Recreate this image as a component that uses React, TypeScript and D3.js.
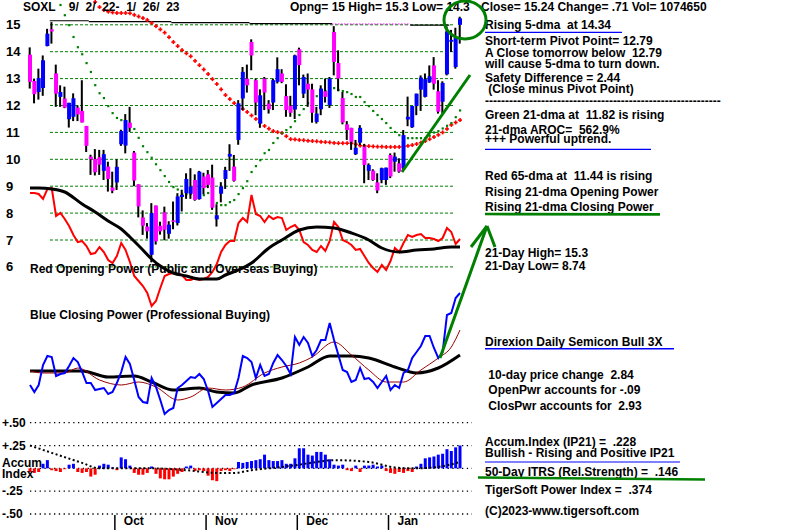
import React from 'react';
import * as d3 from 'd3';

// ---------- DATA ----------
const opens = [13.89,12.91,12.5,12.65,14.21,14.83,13.19,12.32,12.26,11.49,
11.58,11.92,11.8,11.24,10.1,10.01,10.08,9.57,9.73,8.95,
9.14,10.56,10.51,11.36,10.25,9.07,7.84,7.5,6.45,8.28,
7.53,8.03,7.23,7.73,7.63,8.6,8.74,8.72,9.23,8.52,
9.36,9.44,9.32,7.77,8.72,9.27,10.1,9.73,10.72,12.26,
13.0,14.36,12.94,11.33,13.0,12.07,12.11,12.88,13.19,12.35,
11.99,11.85,14.09,12.44,12.81,12.6,11.39,11.86,12.53,12.01,
14.73,13.58,12.28,11.3,11.17,10.19,10.62,10.47,9.57,9.58,
9.14,9.23,9.23,10.16,9.91,9.85,9.67,11.48,11.19,11.98,
12.59,12.32,12.86,13.49,12.53,12.14,13.16,14.37,13.43,15.0];
const highs = [14.16,13.0,13.37,13.86,14.85,15.1,13.52,12.75,12.7,12.1,
12.45,12.0,12.94,11.24,10.17,10.38,10.35,10.35,9.91,9.54,
10.0,11.1,11.68,11.95,10.31,9.07,8.1,7.63,8.37,8.28,
7.68,8.24,7.7,8.43,8.74,8.87,9.48,9.67,9.44,9.57,
9.5,9.6,9.8,8.33,9.15,9.72,10.56,10.16,12.2,13.43,
13.52,14.46,13.0,12.6,13.06,12.2,13.0,13.79,13.35,12.79,
12.36,13.89,14.15,13.15,13.19,12.81,11.95,12.75,13.0,13.06,
14.95,14.05,12.5,11.42,11.17,10.72,11.27,10.57,9.85,9.63,
9.48,9.69,9.69,10.22,10.25,10.04,11.09,12.33,11.98,12.44,
13.12,13.19,13.49,13.8,12.94,12.9,14.94,14.81,14.89,15.3];
const lows = [12.63,12.08,12.22,12.36,14.2,14.3,11.95,11.95,11.9,11.18,
11.42,11.42,11.37,10.27,9.42,9.4,9.42,9.23,8.8,8.74,
8.86,10.5,10.22,11.02,9.0,7.84,7.19,7.05,6.17,6.83,
7.2,6.99,7.05,7.4,7.54,8.06,8.53,8.53,8.46,8.5,
8.7,8.93,8.12,7.5,8.4,8.9,9.57,9.17,10.54,11.83,
12.48,13.31,11.64,11.17,11.83,11.7,11.83,12.82,12.83,11.58,
11.58,11.5,12.75,12.28,11.95,11.36,11.33,11.64,12.11,11.91,
13.12,12.53,11.3,10.72,10.35,10.16,10.53,9.11,9.23,9.2,
8.74,9.11,9.05,9.3,9.54,9.5,9.6,11.23,11.17,11.64,
11.8,12.3,12.84,12.59,11.7,11.7,13.12,13.99,13.37,14.3];
const closes = [12.88,12.42,13.02,13.68,14.67,14.75,12.44,12.5,11.92,12.1,
12.27,11.67,11.37,10.5,10.0,9.52,9.8,10.19,9.27,8.83,
9.72,11.05,11.46,11.17,9.21,8.25,7.53,7.32,8.0,6.95,
7.32,7.38,7.57,7.68,8.62,8.68,9.27,8.99,8.49,9.54,
8.93,9.05,8.2,7.92,8.99,9.6,10.2,9.2,12.08,13.25,
12.75,13.86,12.11,12.38,12.48,11.86,12.94,13.35,12.88,11.83,
11.73,13.86,13.5,13.06,12.59,11.73,11.7,12.63,12.32,13.0,
13.62,13.0,11.37,11.09,10.65,10.43,11.17,9.79,9.79,9.23,
8.84,9.67,9.69,9.36,10.1,9.54,10.9,11.58,11.98,12.44,
13.04,12.98,13.09,12.81,11.77,12.84,14.75,14.44,14.53,15.24];

const ma65Start = 13;
const ma65 = [16.2,16.0,15.85,15.66,15.55,15.49,15.46,15.44,15.44,15.44,
15.43,15.37,15.31,15.25,15.18,15.07,14.95,14.83,14.71,14.54,
14.36,14.21,14.06,13.94,13.83,13.66,13.5,13.34,13.17,12.98,
12.8,12.6,12.39,12.24,12.09,11.98,11.87,11.76,11.63,11.5,
11.37,11.24,11.14,11.05,11.01,10.98,10.86,10.75,10.74,10.72,
10.71,10.69,10.68,10.67,10.65,10.64,10.63,10.61,10.6,10.6,
10.6,10.6,10.56,10.51,10.5,10.49,10.48,10.47,10.47,10.46,
10.46,10.46,10.46,10.48,10.5,10.53,10.57,10.62,10.68,10.75,
10.83,10.91,11.0,11.13,11.28,11.37,11.46];

const ma21Start = 7;
const ma21 = [15.74,15.36,14.99,14.55,14.17,13.91,13.58,13.25,12.76,12.46,
12.28,11.98,11.72,11.54,11.46,11.31,11.2,11.13,10.8,10.49,
10.27,10.06,9.82,9.6,9.38,9.16,8.97,8.88,8.71,8.71,
8.71,8.69,8.67,8.67,8.75,8.55,8.38,8.3,8.3,8.41,
8.49,8.71,8.93,9.19,9.53,9.75,9.97,10.23,10.35,10.61,
10.79,10.98,11.09,11.2,11.42,11.65,11.87,12.09,12.2,12.35,
12.46,12.54,12.58,12.65,12.58,12.54,12.5,12.43,12.32,12.32,
12.13,11.98,11.8,11.65,11.5,11.35,11.17,11.02,10.9,10.83,
10.79,10.79,10.79,10.79,10.79,10.88,11.0,11.05,11.15,11.25,
11.35,11.57,11.82];

// top reference step line
const stepDays = [5, 14, 33, 51, 70, 88, 97];
const stepLevels = [15.15, 15.12, 15.08, 15.04, 15.03, 14.99];

// Opening Power (red) and its MA (black)
const openPower = [117,117,116,111,121,122,94,97,91,84,
75,68,69,64,56,57,63,58,50,47,
54,67,60,48,34,29,24,17,4,9,
22,34,36,37,36,35,30,30,32,30,
31,33,38,46,58,65,69,69,87,92,
88,115,96,94,88,94,91,93,92,80,
83,85,80,68,65,60,58,64,59,69,
88,83,70,68,65,60,61,54,47,42,
38,45,40,49,62,58,67,75,73,75,
76,72,72,71,69,72,82,78,66,71];
const openPowerMA = [[0,122],[2,122],[5,121],[8,118],[12,106],[15,98],[18,89],[21,81],[23,73],[26,60],[28,51],[30,44],[33,37],[36,34],[39,31],[43,31],[45,35],[48,40],[51,47],[55,62],[58,70],[62,80],[66,83],[70,82],[74,77],[78,70],[81,62],[85,58],[89,60],[93,61],[97,63],[99,63]];

// Closing Power (blue) and its MAs
const closePower = [35,28,35,55,64,63,44,46,47,54,
62,58,48,37,37,30,31,32,26,28,
37,48,63,56,40,23,18,17,42,33,
20,6,10,12,32,35,39,43,42,46,
41,29,13,17,21,25,25,27,42,64,
62,58,42,55,44,46,57,65,60,54,
46,83,75,83,77,64,70,80,80,97,
80,65,50,48,38,40,52,41,42,38,
32,38,44,30,35,32,47,50,62,68,
74,84,84,72,62,68,105,107,122,127];
const closePowerSlowMA = [[0,49],[5,49],[12,49],[18,43],[24,44],[28,38],[33,30],[39,32],[43,28],[47,27],[51,35],[58,42],[64,53],[69,64],[74,64],[78,62],[84,53],[89,47],[94,52],[99,65]];
const closePowerFastMA = [[0,49],[3,47],[8,47],[11,52],[16,40],[21,35],[25,38],[29,33],[34,20],[37,23],[41,32],[45,30],[49,33],[54,47],[58,53],[62,57],[65,63],[70,78],[74,65],[78,50],[82,38],[86,38],[90,50],[94,62],[97,73],[99,90]];

// Accumulation Index (IP21)
const accum = [-0.04,-0.05,-0.04,0.05,0.09,-0.02,-0.03,-0.04,-0.01,0.04,
0.05,-0.04,-0.05,-0.04,-0.09,-0.07,0.03,0.05,0.04,0.01,
-0.02,0.12,0.1,0.03,-0.05,-0.07,-0.07,-0.05,0.02,-0.06,
-0.11,-0.12,-0.12,-0.09,-0.06,-0.04,0.02,0.03,-0.03,-0.02,
-0.03,-0.08,-0.13,-0.14,-0.03,-0.02,-0.03,-0.01,0.07,0.06,
0.07,0.08,0.09,0.1,0.15,0.09,0.08,0.08,0.09,0.05,
0.05,0.11,0.22,0.22,0.15,0.14,0.18,0.18,0.15,0.1,
0.04,0.03,0.04,-0.02,-0.03,0.03,-0.04,0.03,0.03,0.04,
0.02,0.03,-0.03,-0.05,-0.06,-0.04,-0.05,-0.03,-0.04,0.02,
0.05,0.11,0.12,0.13,0.15,0.16,0.21,0.19,0.23,0.25];
const accumMA = [[0,0.25],[5,0.17],[12,0.06],[16,0.0],[28,0.0],[36,-0.02],[43,-0.05],[47,-0.05],[51,-0.02],[55,0.0],[62,0.04],[66,0.07],[70,0.09],[78,0.07],[84,0.01],[88,0.0],[93,0.01],[99,0.07]];

const priceTicks = [15,14,13,12,11,10,9,8,7,6];
const accumTicks = [0.5,0.25,0,-0.25,-0.5];
const accumTickLabels = ['+.50','+.25','','-.25','-.50'];
const monthStarts = [20, 41, 62, 83];
const monthLabels = ['Oct', 'Nov', 'Dec', 'Jan'];

const headerLeft = 'SOXL    9/  2/  22-  1/  26/  23';
const headerMid = 'Opng= 15 High= 15.3 Low= 14.3';
const headerRight = 'Close= 15.24 Change= .71 Vol= 1074650';

const panelLines = [
  { t: 'Rising 5-dma  at 14.34', y: 29 },
  { t: 'Short-term Pivot Point= 12.79', y: 45 },
  { t: 'A Close tomorrow below  12.79', y: 56.5 },
  { t: 'will cause 5-dma to turn down.', y: 68 },
  { t: 'Safety Difference = 2.44', y: 82 },
  { t: ' (Close minus Pivot Point)', y: 93 },
  { t: '-----------------------------------------------------------', y: 104.5 },
  { t: 'Green 21-dma at  11.82 is rising', y: 119 },
  { t: '21-dma AROC=  562.9%', y: 134 },
  { t: '+++ Powerful uptrend.', y: 143 },
  { t: 'Red 65-dma at  11.44 is rising', y: 180 },
  { t: 'Rising 21-dma Opening Power', y: 196 },
  { t: 'Rising 21-dma Closing Power', y: 211 },
  { t: '21-Day High= 15.3', y: 257 },
  { t: '21-Day Low= 8.74', y: 270 },
  { t: 'Direxion Daily Semicon Bull 3X', y: 346 },
  { t: ' 10-day price change  2.84', y: 379 },
  { t: ' OpenPwr accounts for -.09', y: 394 },
  { t: ' ClosPwr accounts for  2.93', y: 410 },
  { t: 'Accum.Index (IP21) =  .228', y: 445.5 },
  { t: 'Bullish - Rising and Positive IP21', y: 457 },
  { t: '50-Day ITRS (Rel.Strength) =  .146', y: 476 },
  { t: 'TigerSoft Power Index =  .374', y: 494 },
  { t: '(C)2023-www.tigersoft.com', y: 515 },
];

const GREEN = '#008000';
const BLUE = '#0000ff';
const MAGENTA = '#ff00ff';
const RED = '#ff0000';

export default function App() {
  const x = d3.scaleLinear().domain([0, 99]).range([30, 460]);
  const yP = d3.scaleLinear().domain([6, 15]).range([266.9, 24.8]);
  const yOP = d3.scaleLinear().domain([0, 125]).range([310, 185]);
  const yCP = d3.scaleLinear().domain([0, 130]).range([420, 290]);
  const yA = d3.scaleLinear().domain([-0.5, 0.5]).range([514, 422.7]);

  const gridX0 = 50, gridX1 = 454;

  const opLine = d3.line<number>().x((_, i) => x(i)).y(d => yOP(d))(openPower) || '';
  const opMALine = d3.line<number[]>().x(d => x(d[0])).y(d => yOP(d[1])).curve(d3.curveMonotoneX)(openPowerMA) || '';
  const cpLine = d3.line<number>().x((_, i) => x(i)).y(d => yCP(d))(closePower) || '';
  const cpSlow = d3.line<number[]>().x(d => x(d[0])).y(d => yCP(d[1])).curve(d3.curveMonotoneX)(closePowerSlowMA) || '';
  const cpFast = d3.line<number[]>().x(d => x(d[0])).y(d => yCP(d[1])).curve(d3.curveMonotoneX)(closePowerFastMA) || '';
  const accMALine = d3.line<number[]>().x(d => x(d[0])).y(d => yA(d[1])).curve(d3.curveMonotoneX)(accumMA) || '';

  const textStyle: React.CSSProperties = { whiteSpace: 'pre' };

  return (
    <svg width={800} height={530} style={{ position: 'absolute', left: 0, top: 0 }}
      fontFamily="'Liberation Sans', Arial, sans-serif" fontWeight="bold" fontSize={12} xmlSpace="preserve">
      <rect x={0} y={0} width={800} height={530} fill="#fff" />
      <defs>
        <clipPath id="plotclip"><rect x={0} y={0} width={470} height={530} /></clipPath>
      </defs>

      {/* price grid */}
      {priceTicks.map(p => (
        <g key={'pg' + p}>
          <line x1={gridX0} x2={gridX1} y1={yP(p)} y2={yP(p)} stroke={GREEN} strokeWidth={1} strokeDasharray="3,2" />
          <text x={6} y={yP(p) + 4.5} style={textStyle} fontSize={13}>{p}</text>
        </g>
      ))}

      {/* top step reference line */}
      {stepLevels.map((lv, k) => (
        <line key={'st' + k} x1={x(stepDays[k]) - 2} x2={x(stepDays[k + 1]) - 2} y1={yP(lv)} y2={yP(lv)}
          stroke={k === 4 ? MAGENTA : '#000'} strokeWidth={1.2} strokeDasharray={k === 4 ? '1.5,1.5' : undefined} />
      ))}

      <g clipPath="url(#plotclip)">
        {/* 65-dma red plus markers */}
        {ma65.map((v, k) => {
          const cx = x(k + ma65Start), cy = yP(v);
          return (
            <g key={'m65' + k} fill={RED}>
              <rect x={cx - 2} y={cy - 0.75} width={4} height={1.6} />
              <rect x={cx - 0.75} y={cy - 2} width={1.6} height={4} />
            </g>
          );
        })}
        {/* 21-dma green dots */}
        {ma21.map((v, k) => (
          <rect key={'m21' + k} x={x(k + ma21Start) - 1} y={yP(v) - 1} width={2.2} height={2.2} fill={GREEN} />
        ))}
      </g>

      {/* candles */}
      {opens.map((o, i) => {
        const c = closes[i];
        const up = c >= o;
        const top = yP(Math.max(o, c));
        const bot = yP(Math.min(o, c));
        return (
          <g key={'c' + i}>
            <rect x={x(i) - 1.3} y={yP(highs[i])} width={2} height={Math.max(1, yP(lows[i]) - yP(highs[i]))} fill="#000" />
            <rect x={x(i) - 2} y={top} width={4} height={Math.max(1.5, bot - top)} fill={up ? BLUE : MAGENTA} />
          </g>
        );
      })}

      {/* opening power */}
      <path d={opLine} fill="none" stroke={RED} strokeWidth={2} />
      <path d={opMALine} fill="none" stroke="#000" strokeWidth={3} />
      <text x={30} y={273} style={textStyle}>Red Opening Power (Public and Overseas Buying)</text>

      {/* closing power */}
      <text x={30} y={319} style={textStyle}>Blue Closing Power (Professional Buying)</text>
      <path d={cpSlow} fill="none" stroke="#000" strokeWidth={3} />
      <path d={cpFast} fill="none" stroke="#990000" strokeWidth={1} />
      <path d={cpLine} fill="none" stroke={BLUE} strokeWidth={2} />

      {/* accumulation index */}
      {accumTicks.map((v, k) => (
        <g key={'ag' + k}>
          <line x1={30} x2={472} y1={yA(v)} y2={yA(v)} stroke="#000" strokeWidth={1.3} strokeDasharray="1.3,3.5" />
          {accumTickLabels[k] && <text x={2} y={yA(v) + 4.3} style={textStyle}>{accumTickLabels[k]}</text>}
        </g>
      ))}
      {accum.map((v, i) => (
        <rect key={'a' + i} x={x(i) - 1.5} y={v >= 0 ? yA(v) : yA(0)} width={3}
          height={Math.abs(yA(v) - yA(0))} fill={v >= 0 ? BLUE : RED} />
      ))}
      <path d={accMALine} fill="none" stroke="#000" strokeWidth={2} strokeDasharray="2,2.5" />
      <text x={2} y={467} style={textStyle}>Accum</text>
      <text x={2} y={478} style={textStyle}>Index</text>

      {/* month axis */}
      {monthStarts.map((d, k) => (
        <g key={'mo' + k}>
          <line x1={x(d) - 2} x2={x(d) - 2} y1={515} y2={530} stroke="#000" strokeWidth={1.5} />
          <text x={x(d) + 7} y={525} style={textStyle}>{monthLabels[k]}</text>
        </g>
      ))}

      {/* header */}
      <text x={23} y={11} style={textStyle}>{headerLeft}</text>
      <text x={290} y={11} style={textStyle}>{headerMid}</text>
      <text x={481} y={11} style={textStyle}>{headerRight}</text>

      {/* right panel */}
      {panelLines.map((l, k) => (
        <text key={'pl' + k} x={485} y={l.y} style={textStyle}>{l.t}</text>
      ))}
      <line x1={485} x2={622} y1={32.3} y2={32.3} stroke={BLUE} strokeWidth={1.2} />
      <line x1={485} x2={651} y1={149.3} y2={149.3} stroke={BLUE} strokeWidth={1.2} />
      <line x1={485} x2={660} y1={214} y2={214.3} stroke={GREEN} strokeWidth={2.7} />
      <line x1={485} x2={674} y1={348.7} y2={348.7} stroke={BLUE} strokeWidth={1.6} />
      <line x1={485} x2={680} y1={462} y2={462} stroke={BLUE} strokeWidth={1.2} />
      <line x1={478} x2={705} y1={477.5} y2={479.5} stroke={GREEN} strokeWidth={2.5} />

      {/* hand-drawn annotations */}
      <line x1={402} y1={172} x2={470} y2={75} stroke={GREEN} strokeWidth={3} />
      <line x1={440} y1={358} x2={487} y2={226} stroke={GREEN} strokeWidth={3} />
      <line x1={487} y1={226} x2={471} y2={247} stroke={GREEN} strokeWidth={3} />
      <line x1={487} y1={226} x2={495} y2={247} stroke={GREEN} strokeWidth={3} />
      <ellipse cx={465} cy={20} rx={21} ry={19} fill="none" stroke={GREEN} strokeWidth={3} />
    </svg>
  );
}
